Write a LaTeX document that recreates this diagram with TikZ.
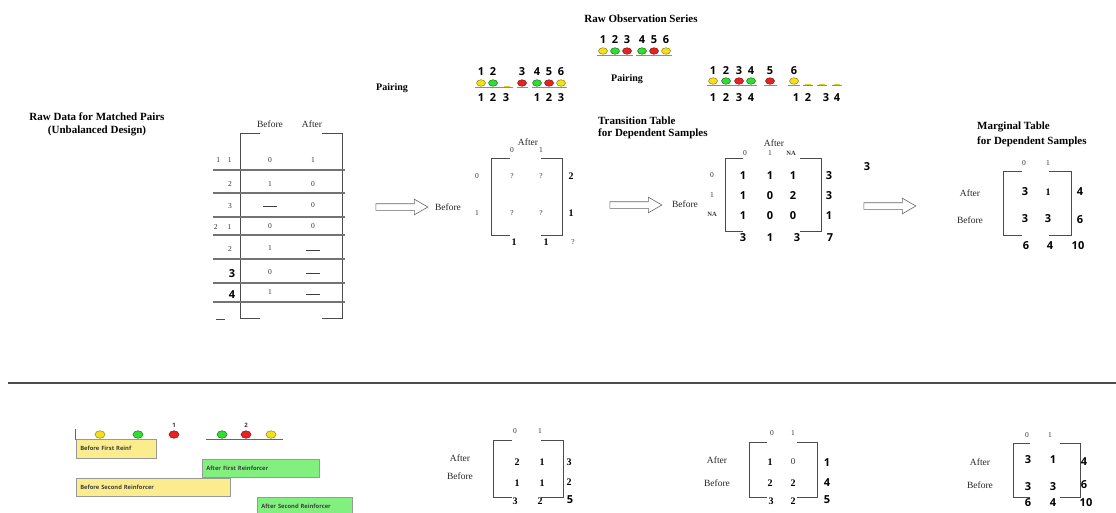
\documentclass[tikz,border=0pt]{standalone}
\usepackage{fontspec}
\setmainfont{Liberation Serif}
\setsansfont{Open Sans}
\usetikzlibrary{arrows.meta,positioning,shapes.geometric,shapes.arrows}
\definecolor{obsyellow}{HTML}{F2E01C}
\definecolor{obsgreen}{HTML}{35DB35}
\definecolor{obsred}{HTML}{E42424}
\definecolor{reinfyellow}{HTML}{FBEC8E}
\definecolor{reinfgreen}{HTML}{82F07E}

\tikzset{
  ttl/.style={font=\fontsize{11}{12}\selectfont\bfseries, inner sep=0pt},
  pairlbl/.style={font=\fontsize{10}{12}\selectfont\bfseries, inner sep=0pt},
  lbl/.style={font=\fontsize{9.5}{11}\selectfont, inner sep=0pt, text=black!85},
  tiny/.style={font=\fontsize{7.5}{9}\selectfont, inner sep=0pt, text=black!80},
  cell/.style={font=\fontsize{10}{12}\selectfont\bfseries, inner sep=0pt},
  dig/.style={font=\sffamily\bfseries\fontsize{11}{13}\selectfont, inner sep=0pt},
  brkline/.style={draw=black!70, line width=0.9pt},
  rowline/.style={draw=black!55, line width=1.3pt},
  uline/.style={draw=black!45, line width=1pt},
  sepline/.style={draw=black!70, line width=1.4pt},
  obs/.style={ellipse, draw, line width=0.5pt, inner sep=0pt, minimum width=9pt, minimum height=6.5pt},
  ylw/.style={obs, fill=obsyellow, draw=obsyellow!60!black},
  grn/.style={obs, fill=obsgreen, draw=obsgreen!55!black},
  rd/.style={obs, fill=obsred, draw=obsred!60!black},
  slot/.style={rectangle, fill=obsyellow!90!black, inner sep=0pt, minimum width=6pt, minimum height=1.4pt},
  nodash/.style={rectangle, fill=black!75, inner sep=0pt, minimum width=14pt, minimum height=0.8pt},
  bigarrow/.style={single arrow, draw=black!60, line width=0.6pt, fill=white, inner xsep=0pt, inner ysep=3pt,
    minimum height=52pt, single arrow head extend=4.5pt, single arrow tip angle=60},
  reinf/.style={rectangle, draw=black!40, line width=0.5pt, anchor=north west, inner xsep=4pt,
    align=left, font=\sffamily\bfseries\fontsize{5.8}{7}\selectfont, text=black!75},
}

% open bracket of a table: left, top, right, bottom, left stub, right stub
\newcommand{\tblbrk}[6]{%
  \draw[brkline] (#1+#5,#2) -- (#1,#2) -- (#1,#4) -- (#1+#5,#4);
  \draw[brkline] (#3-#6,#2) -- (#3,#2) -- (#3,#4) -- (#3-#6,#4);
}

\begin{document}
\begin{tikzpicture}[x=1pt, y=-1pt]
\useasboundingbox (0,0) rectangle (1116,512);

% raw observation series
\node[ttl] (obsttl) at (641,19) {Raw Observation Series};
\foreach \x/\s/\n in {603/ylw/1,615/grn/2,627/rd/3,642/grn/4,654/rd/5,666/ylw/6}{
  \node[\s] (obs\n) at (\x,51) {};
  \node[dig] (obsnum\n) at (\x,40) {\n};
}
\draw[uline] (597,55.5) -- (633,55.5);
\draw[uline] (636,55.5) -- (672,55.5);

% first pairing
\node[pairlbl] (pairA) at (392,88) {Pairing};
\foreach \x/\s/\n in {481/ylw/1,493/grn/2,522/rd/3,537/grn/4,549/rd/5,561/ylw/6}{
  \node[\s] (pa\n) at (\x,83) {};
  \node[dig] (panum\n) at (\x,72) {\n};
}
\node[slot] (paslot) at (507,86.5) {};
\foreach \x/\n [count=\k] in {481/1,493/2,506/3,537/1,549/2,561/3}
  \node[dig] (pabot\k) at (\x,98) {\n};
\draw[uline] (475,87.8) -- (513,87.8);
\draw[uline] (517,87.8) -- (528,87.8);
\draw[uline] (532,87.8) -- (567,87.8);

% second pairing
\node[pairlbl] (pairB) at (627,79) {Pairing};
\foreach \x/\s/\n in {713/ylw/1,726/grn/2,739/rd/3,751/grn/4,770/rd/5,794/ylw/6}{
  \node[\s] (pb\n) at (\x,81) {};
  \node[dig] (pbnum\n) at (\x,71) {\n};
}
\foreach \x [count=\k] in {808,822,837}
  \node[slot] (pbslot\k) at (\x,84.6) {};
\foreach \x/\n [count=\k] in {713/1,726/2,739/3,751/4,796/1,808/2,826/3,837/4}
  \node[dig] (pbbot\k) at (\x,98) {\n};
\draw[uline] (707,85.8) -- (757,85.8);
\draw[uline] (764,85.8) -- (777,85.8);
\draw[uline] (788,85.8) -- (800,85.8);
\draw[uline] (803,85.8) -- (813,85.8);
\draw[uline] (817,85.8) -- (827,85.8);
\draw[uline] (832,85.8) -- (842,85.8);

% raw data table
\node[ttl, align=center, font=\fontsize{11}{13}\selectfont\bfseries] (rawttl) at (97,124.5)
  {Raw Data for Matched Pairs\\(Unbalanced Design)};
\node[lbl] (hbef) at (270,124) {Before};
\node[lbl] (haft) at (312,124) {After};
\tblbrk{240}{133}{342}{318}{20}{20}
\foreach \y in {170,193,217,235,259,283,302}
  \draw[rowline] (213,\y) -- (345,\y);
\draw[brkline] (216,319) -- (225,319);
\foreach \x/\y/\t [count=\k] in {270/160/0,313/160/1,270/184/1,313/184/0,313/205/0,
    270/226/0,313/226/0,270/248/1,270/272/0,270/292/1}
  \node[tiny] (rc\k) at (\x,\y) {\t};
\foreach \x/\y [count=\k] in {270/206,313/250,313/273,313/294}
  \node[nodash] (rnone\k) at (\x,\y) {};
\node[tiny] (rl1) at (224,160) {1\hspace{8pt}1};
\node[tiny] (rl2) at (230,184) {2};
\node[tiny] (rl3) at (230,206) {3};
\node[tiny] (rl4) at (222.5,227) {2\hspace{10pt}1};
\node[tiny] (rl5) at (230,249) {2};
\node[dig] (rl6) at (232,274) {3};
\node[dig] (rl7) at (232,295) {4};

% arrows between the tables
\node[bigarrow] (arrA) at (399,207) {};
\node[bigarrow] (arrB) at (633,205) {};
\node[bigarrow] (arrC) at (887,206) {};

% unknown table
\tblbrk{491}{158}{562}{235}{19}{21}
\node[lbl] (ua) at (528,142) {After};
\node[tiny] (uc0) at (512,150) {0};
\node[tiny] (uc1) at (541,150) {1};
\node[tiny] (ur0) at (477,176) {0};
\node[tiny] (ur1) at (477,213) {1};
\node[lbl] (ub) at (448,207) {Before};
\foreach \x/\y [count=\k] in {512/176,541/176,512/213,541/213,573/242}
  \node[tiny] (uq\k) at (\x,\y) {?};
\foreach \x/\y/\t [count=\k] in {571/176/2,571/213/1,514/242/1,546/242/1}
  \node[cell] (us\k) at (\x,\y) {\t};

% transition table
\node[ttl, align=left, anchor=west] (trnttl) at (598,127.5) {Transition Table\\for Dependent Samples};
\tblbrk{725}{158}{821}{231}{18}{21}
\node[lbl] (ta) at (774,143) {After};
\node[tiny] (tc0) at (745,153) {0};
\node[tiny] (tc1) at (770,153) {1};
\node[tiny, font=\fontsize{6.5}{8}\selectfont\bfseries] (tcna) at (791,153) {NA};
\node[tiny] (tr0) at (712,175) {0};
\node[tiny] (tr1) at (712,195) {1};
\node[tiny, font=\fontsize{6.5}{8}\selectfont\bfseries] (trna) at (712,214) {NA};
\node[lbl] (tb) at (685,204) {Before};
\foreach \x/\y/\t [count=\k] in {743/176/1,770/176/1,793/176/1,743/196/1,770/196/0,793/196/2,
    743/216/1,770/216/0,793/216/0,829/176/3,829/196/3,829/216/1,743/238/3,770/238/1,797/238/3,830/238/7}
  \node[dig] (tv\k) at (\x,\y) {\t};
\node[dig] (tstray) at (867,167) {3};

% marginal table
\node[ttl, align=left, anchor=west] (mrgttl) at (977,134) {Marginal Table\\[3pt]for Dependent Samples};
\tblbrk{1003}{171}{1071}{235}{19}{22}
\node[tiny] (mc0) at (1024,163) {0};
\node[tiny] (mc1) at (1048,163) {1};
\node[lbl] (ma) at (970,193) {After};
\node[lbl] (mb) at (970,220) {Before};
\node[cell] (mv2) at (1048,192) {1};
\foreach \x/\y/\t [count=\k] in {1025/192/3,1025/219/3,1048/219/3,1080/192/4,1080/220/6,
    1026/246/6,1050/246/4,1078/246/10}
  \node[dig] (mv\k) at (\x,\y) {\t};

% separator
\draw[sepline] (8,383) -- (1116,383);

% reinforcer timeline
\draw[brkline, draw=black!60] (75,429) -- (75,439) -- (157,439);
\draw[brkline, draw=black!60] (206,439) -- (283,439);
\node[reinf, fill=reinfyellow, text width=72pt, minimum height=19pt] (bfr1) at (76,439) {Before First Reinf};
\node[reinf, fill=reinfgreen, text width=109pt, minimum height=18pt] (afr1) at (202,459) {After First Reinforcer};
\node[reinf, fill=reinfyellow, text width=146pt, minimum height=18pt] (bfr2) at (76,478) {Before Second Reinforcer};
\node[reinf, fill=reinfgreen, text width=87pt, minimum height=18pt] (afr2) at (257,497) {After Second Reinforcer};
\foreach \x/\s [count=\k] in {100/ylw,138/grn,174/rd,222/grn,246/rd,271/ylw}
  \node[\s, minimum width=10pt, minimum height=7.5pt] (rf\k) at (\x,434.5) {};
\node[tiny, font=\sffamily\bfseries\fontsize{6}{7}\selectfont] (rfn1) at (174,425) {1};
\node[tiny, font=\sffamily\bfseries\fontsize{6}{7}\selectfont] (rfn2) at (246,425) {2};

% first reinforcer table
\tblbrk{493}{440}{563}{497}{19}{22}
\node[tiny] (fc0) at (515,431) {0};
\node[tiny] (fc1) at (540,431) {1};
\node[lbl] (fa) at (460,458) {After};
\node[lbl] (fb) at (460,476) {Before};
\foreach \x/\y/\t [count=\k] in {517/462/2,542/462/1,517/483/1,542/483/1,569/462/3,569/482/2,515/501/3,540/501/2}
  \node[cell] (fv\k) at (\x,\y) {\t};
\node[dig] (ftot) at (570,500) {5};

% second reinforcer table
\tblbrk{749}{442}{817}{497}{18}{20}
\node[tiny] (sc0) at (772,433) {0};
\node[tiny] (sc1) at (793,433) {1};
\node[lbl] (sa) at (717,460) {After};
\node[lbl] (sb) at (717,483) {Before};
\node[tiny, font=\fontsize{9}{10}\selectfont] (sv0) at (793,462) {0};
\foreach \x/\y/\t [count=\k] in {770/462/1,770/483/2,793/483/2,771/501/3,793/501/2}
  \node[cell] (sv\k) at (\x,\y) {\t};
\foreach \x/\y/\t [count=\k] in {827/463/1,827/483/4,827/500/5}
  \node[dig] (sd\k) at (\x,\y) {\t};

% combined table
\tblbrk{1013}{443}{1080}{497}{17}{20}
\node[tiny] (cc0) at (1027,435) {0};
\node[tiny] (cc1) at (1050,435) {1};
\node[lbl] (ca) at (980,462) {After};
\node[lbl] (cb) at (980,485) {Before};
\foreach \x/\y/\t [count=\k] in {1028/460/3,1053/460/1,1028/487/3,1053/487/3,1084/462/4,1084/485/6,
    1028/503/6,1053/503/4,1086/503/10}
  \node[dig] (cv\k) at (\x,\y) {\t};
\end{tikzpicture}
\end{document}
